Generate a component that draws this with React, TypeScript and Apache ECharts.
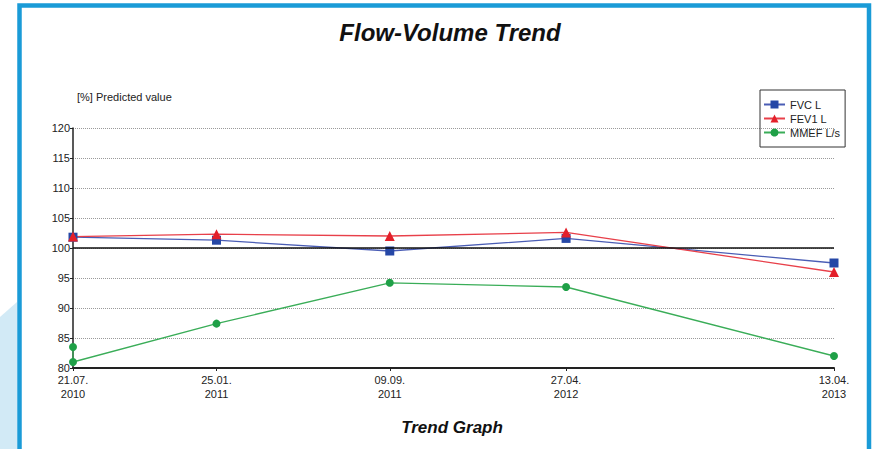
import React, { useEffect, useRef } from "react";
import * as echarts from "echarts";

const dateLabels = ["21.07.2010", "25.01.2011", "09.09.2011", "27.04.2012", "13.04.2013"];
const fvcValues = [101.8, 101.3, 99.5, 101.6, 97.5];
const fev1Values = [101.9, 102.3, 102.0, 102.6, 96.0];
const mmefDates = ["21.07.2010", "21.07.2010", "25.01.2011", "09.09.2011", "27.04.2012", "13.04.2013"];
const mmefValues = [83.5, 81.0, 87.4, 94.2, 93.5, 82.0];
const yTicks = { min: 80, max: 120, interval: 5 };

const FONT = "'Liberation Sans', Arial, sans-serif";

function parseDate(s: string): number {
  const [d, m, y] = s.split(".").map(Number);
  return Date.UTC(y, m - 1, d);
}

function fmt(v: number): string {
  const dt = new Date(v);
  const d = String(dt.getUTCDate()).padStart(2, "0");
  const m = String(dt.getUTCMonth() + 1).padStart(2, "0");
  return `${d}.${m}.\n${dt.getUTCFullYear()}`;
}

export default function App() {
  const ref = useRef<HTMLDivElement>(null);
  useEffect(() => {
    if (!ref.current) return;
    const chart = echarts.init(ref.current, null, { renderer: "svg" });
    const times = dateLabels.map(parseDate);
    const fvc = times.map((t, i) => [t, fvcValues[i]]);
    const fev1 = times.map((t, i) => [t, fev1Values[i]]);
    const mmef = mmefDates.map((s, i) => [parseDate(s), mmefValues[i]]);
    chart.setOption({
      animation: false,
      backgroundColor: "#ffffff",
      textStyle: { fontFamily: FONT },
      title: [
        {
          text: "Flow-Volume Trend",
          left: 445,
          textAlign: "center",
          top: 15,
          textStyle: { fontFamily: FONT, fontSize: 24, fontWeight: "bold", fontStyle: "italic", color: "#111", lineHeight: 24 },
        },
        {
          text: "Trend Graph",
          left: 447,
          textAlign: "center",
          top: 414,
          textStyle: { fontFamily: FONT, fontSize: 17, fontWeight: "bold", fontStyle: "italic", color: "#111", lineHeight: 17 },
        },
      ],
      graphic: [
        {
          type: "polygon",
          shape: { points: [[0, 317], [17, 302], [17, 449], [0, 449]] },
          style: { fill: "#d2eaf6" },
          silent: true,
        },
        {
          type: "rect",
          shape: { x: 19.5, y: 5.5, width: 849.5, height: 500 },
          style: { fill: "none", stroke: "#1a9bd7", lineWidth: 4.5 },
          silent: true,
        },
        {
          type: "text",
          left: 77,
          top: 91,
          style: { text: "[%] Predicted value", fontFamily: FONT, fontSize: 11, fill: "#222" },
          silent: true,
        },
      ],
      legend: {
        orient: "vertical",
        left: 760,
        top: 90,
        padding: [9, 5, 9, 3],
        itemWidth: 21,
        itemHeight: 10,
        itemGap: 3,
        borderColor: "#333",
        borderWidth: 1,
        textStyle: { fontFamily: FONT, fontSize: 11, color: "#222" },
        data: ["FVC L", "FEV1 L", "MMEF L/s"],
      },
      grid: { left: 73, right: 39, top: 128, bottom: 81 },
      xAxis: {
        type: "value",
        min: times[0],
        max: times[times.length - 1],
        axisLine: { show: true, lineStyle: { color: "#222", width: 2 } },
        axisTick: { show: true, length: 3, customValues: times, lineStyle: { color: "#222" } },
        axisLabel: {
          customValues: times,
          formatter: (v: number) => fmt(v),
          fontFamily: FONT,
          fontSize: 11,
          color: "#222",
          lineHeight: 14,
          margin: 5,
        },
        splitLine: { show: false },
      },
      yAxis: {
        type: "value",
        min: yTicks.min,
        max: yTicks.max,
        interval: yTicks.interval,
        axisLine: { show: true, lineStyle: { color: "#222", width: 1.5 } },
        axisTick: { show: true, length: 3, lineStyle: { color: "#222" } },
        axisLabel: { fontFamily: FONT, fontSize: 11, color: "#222", margin: 3 },
        splitLine: { show: true, lineStyle: { color: "#9a9a9a", type: "dotted", width: 1 } },
      },
      series: [
        {
          name: "FVC L",
          type: "line",
          data: fvc,
          symbol: "rect",
          symbolSize: 9,
          itemStyle: { color: "#2547a6" },
          lineStyle: { color: "#4a5db5", width: 1.3 },
          markLine: {
            silent: true,
            symbol: ["none", "none"],
            label: { show: false },
            lineStyle: { color: "#111", type: "solid", width: 1.5 },
            data: [{ yAxis: 100 }],
          },
        },
        {
          name: "FEV1 L",
          type: "line",
          data: fev1,
          symbol: "triangle",
          symbolSize: 10,
          itemStyle: { color: "#e3202a" },
          lineStyle: { color: "#e8404a", width: 1.3 },
        },
        {
          name: "MMEF L/s",
          type: "line",
          data: mmef,
          symbol: "circle",
          symbolSize: 8,
          itemStyle: { color: "#1fa047" },
          lineStyle: { color: "#3aad58", width: 1.3 },
        },
      ],
    });
    return () => chart.dispose();
  }, []);
  return <div ref={ref} style={{ position: "fixed", left: 0, top: 0, width: 873, height: 449 }} />;
}
